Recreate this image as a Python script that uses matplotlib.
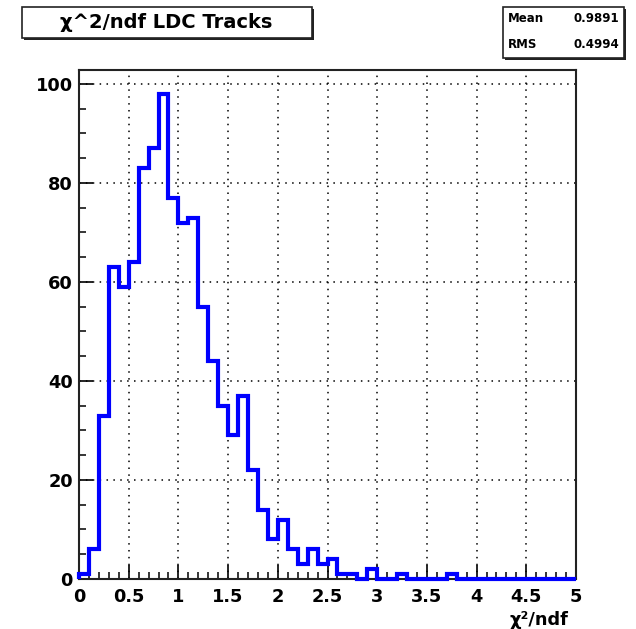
#!/usr/bin/env python3
"""Chi2/ndf distribution of LDC tracks, drawn in the ROOT histogram look."""
import matplotlib
matplotlib.use("Agg")
import matplotlib.pyplot as plt
from matplotlib.patches import Rectangle
from matplotlib.ticker import MultipleLocator
import numpy as np

# 50 bins of width 0.1 between 0 and 5
bin_edges = np.linspace(0.0, 5.0, 51)
counts = [1, 6, 33, 63, 59, 64, 83, 87, 98, 77,
          72, 73, 55, 44, 35, 29, 37, 22, 14, 8,
          12, 6, 3, 6, 3, 4, 1, 1, 0, 2,
          0, 0, 1, 0, 0, 0, 0, 1, 0, 0,
          0, 0, 0, 0, 0, 0, 0, 0, 0, 0]
hist_title = "χ^2/ndf LDC Tracks"
x_label = "χ²/ndf"
stats_names = ["Mean", "RMS"]
stats_values = ["0.9891", "0.4994"]

plt.rcParams["font.family"] = ["DejaVu Sans"]
plt.rcParams["font.weight"] = "bold"

W, H = 636, 629
fig = plt.figure(figsize=(W / 100, H / 100), dpi=100)
fig.patch.set_facecolor("white")


def fx(px):
    return px / W


def fy(py):
    return 1 - py / H


ax = fig.add_axes([fx(79), fy(579), fx(576) - fx(79), fy(70) - fy(579)])
ax.stairs(counts, bin_edges, color="#0000ff", linewidth=3, clip_on=False, zorder=3)

ax.set_xlim(0, 5)
ax.set_ylim(0, 102.8)
ax.xaxis.set_major_locator(MultipleLocator(0.5))
ax.xaxis.set_minor_locator(MultipleLocator(0.1))
ax.yaxis.set_major_locator(MultipleLocator(20))
ax.yaxis.set_minor_locator(MultipleLocator(5))
ax.xaxis.set_major_formatter(plt.FuncFormatter(lambda v, p: f"{v:g}"))
ax.tick_params(which="major", direction="in", length=10, width=1.2,
               labelsize=12.8, top=False, right=False)
ax.tick_params(axis="x", which="major", pad=6.5)
ax.tick_params(axis="y", which="major", pad=4.5)
ax.tick_params(which="minor", direction="in", length=5, width=1.1,
               top=False, right=False)
for lab in ax.get_xticklabels() + ax.get_yticklabels():
    lab.set_fontweight("bold")
ax.grid(True, which="major", color="black", linestyle=(0, (1, 3.5)), linewidth=1.1)
for side in ax.spines.values():
    side.set_linewidth(1.5)
    side.set_color("#222222")

fig.text(fx(568), fy(620), x_label, ha="right", va="center",
         fontsize=12.8, fontweight="bold")


def shadow_box(x0, y0, x1, y1):
    # ROOT-style pave: thin frame plus a dark shadow on the bottom/right
    fig.patches.append(Rectangle((fx(x0 + 2), fy(y1 + 2)), fx(x1 - x0), fy(y0) - fy(y1),
                                 transform=fig.transFigure, facecolor="#222222",
                                 edgecolor="none", zorder=1))
    fig.patches.append(Rectangle((fx(x0), fy(y1)), fx(x1 - x0), fy(y0) - fy(y1),
                                 transform=fig.transFigure, facecolor="white",
                                 edgecolor="#222222", linewidth=1.2, zorder=2))


shadow_box(22, 7, 312, 38)
fig.text(fx(166), fy(23), hist_title, ha="center", va="center",
         fontsize=14, fontweight="bold", zorder=5)

shadow_box(503, 7, 624, 58)
for i, (name, val) in enumerate(zip(stats_names, stats_values)):
    y = 18 + i * 26
    fig.text(fx(508), fy(y), name, ha="left", va="center", fontsize=8.5, fontweight="bold", zorder=5)
    fig.text(fx(619), fy(y), val, ha="right", va="center", fontsize=8.5, fontweight="bold", zorder=5)

fig.savefig("out.png", dpi=100, facecolor="white")
